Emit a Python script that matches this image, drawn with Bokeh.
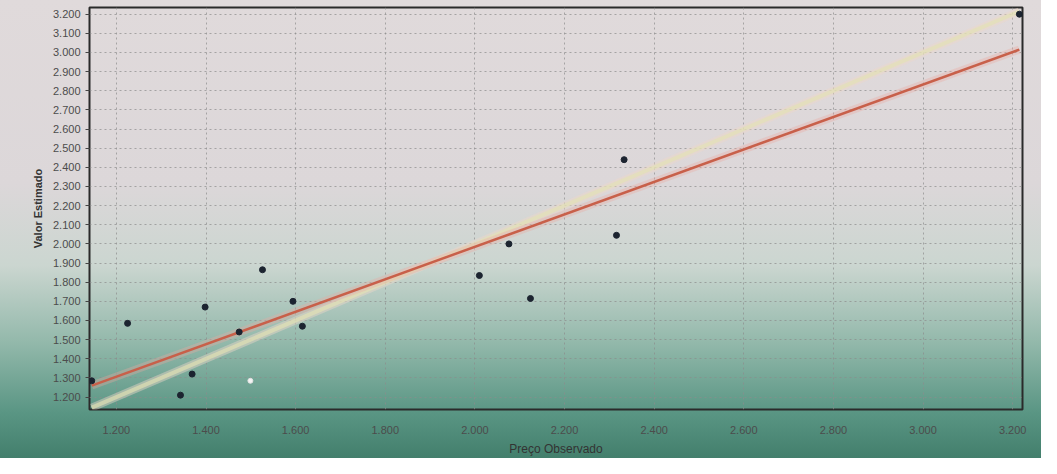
from bokeh.plotting import figure
from bokeh.models import FixedTicker, Range1d
from bokeh.embed import file_html
from bokeh.resources import INLINE

# Observed price vs estimated value
obs = [1145, 1225, 1343, 1369, 1398, 1474, 1526, 1594, 1615, 2010, 2076, 2124, 2316, 2333, 3215]
est = [1285, 1585, 1210, 1320, 1670, 1540, 1865, 1700, 1570, 1835, 2000, 1715, 2045, 2440, 3200]

# point drawn in white
white_obs = [1499]
white_est = [1285]

# fitted line and identity reference line
fit_x = [1145, 3215]
fit_y = [1260, 3015]
ref_x = [1145, 3215]
ref_y = [1145, 3215]

x_ticks = [1200, 1400, 1600, 1800, 2000, 2200, 2400, 2600, 2800, 3000, 3200]
x_labels = ["1.200", "1.400", "1.600", "1.800", "2.000", "2.200", "2.400",
            "2.600", "2.800", "3.000", "3.200"]
y_ticks = [1200, 1300, 1400, 1500, 1600, 1700, 1800, 1900, 2000, 2100, 2200,
           2300, 2400, 2500, 2600, 2700, 2800, 2900, 3000, 3100, 3200]
y_labels = ["1.200", "1.300", "1.400", "1.500", "1.600", "1.700", "1.800",
            "1.900", "2.000", "2.100", "2.200", "2.300", "2.400", "2.500",
            "2.600", "2.700", "2.800", "2.900", "3.000", "3.100", "3.200"]

p = figure(width=1041, height=458, output_backend="svg", toolbar_location=None,
           x_range=Range1d(1140, 3222), y_range=Range1d(1135, 3235),
           min_border_left=89, min_border_right=19, min_border_top=7,
           min_border_bottom=41)

p.styles = {"background": "linear-gradient(to bottom, #e0dadb 0%, #dcd7d9 40%, "
                          "#cbd6d0 58%, #92b8aa 75%, #5a9684 90%, #437f6c 100%)"}
p.background_fill_alpha = 0
p.border_fill_alpha = 0
p.outline_line_color = "#2a2a2a"
p.outline_line_width = 2

# lines
p.line(ref_x, ref_y, line_color="#eed6c8", line_width=8, line_alpha=0.45)
p.line(ref_x, ref_y, line_color="#e4e2b4", line_width=4, line_alpha=0.65)
p.line(fit_x, fit_y, line_color="#eaa8a0", line_width=8, line_alpha=0.35)
p.line(fit_x, fit_y, line_color="#c8604a", line_width=2.5)

# points
p.scatter(obs, est, size=6, fill_color="#1c2430", line_color="#1c2430")
p.scatter(white_obs, white_est, size=5, fill_color="#f4f4f4", line_color="#e0e0e0")

# grids
for g in (p.xgrid, p.ygrid):
    g.grid_line_color = "#8c8c8c"
    g.grid_line_dash = "2 3"
    g.grid_line_alpha = 0.7
p.xgrid.ticker = FixedTicker(ticks=x_ticks)
p.ygrid.ticker = FixedTicker(ticks=y_ticks)

# axes
p.xaxis.ticker = FixedTicker(ticks=x_ticks)
p.xaxis.major_label_overrides = dict(zip(x_ticks, x_labels))
p.yaxis.ticker = FixedTicker(ticks=y_ticks)
p.yaxis.major_label_overrides = dict(zip(y_ticks, y_labels))
p.xaxis.minor_tick_line_color = None
p.yaxis.minor_tick_line_color = None
p.xaxis.major_tick_line_color = None
p.yaxis.major_tick_in = 0
p.yaxis.major_tick_out = 4
p.yaxis.major_tick_line_color = "#444444"
p.xaxis.axis_line_color = None
p.yaxis.axis_line_color = None

for ax in (p.xaxis, p.yaxis):
    ax.major_label_text_font = "Liberation Sans"
    ax.major_label_text_font_size = "11px"
    ax.major_label_text_color = "#4c4c4c"
    ax.axis_label_text_font = "Liberation Sans"
    ax.axis_label_text_font_style = "normal"
    ax.axis_label_text_color = "#333333"

p.xaxis.axis_label = "Preço Observado"
p.xaxis.axis_label_text_font_size = "12px"
p.xaxis.major_label_standoff = 10
p.xaxis.axis_label_standoff = 5
p.yaxis.axis_label = "Valor Estimado"
p.yaxis.axis_label_text_font_size = "11px"
p.yaxis.axis_label_text_font_style = "bold"
p.yaxis.major_label_standoff = 5
p.yaxis.axis_label_standoff = 6

open("out.html", "w").write(file_html(p, INLINE))
